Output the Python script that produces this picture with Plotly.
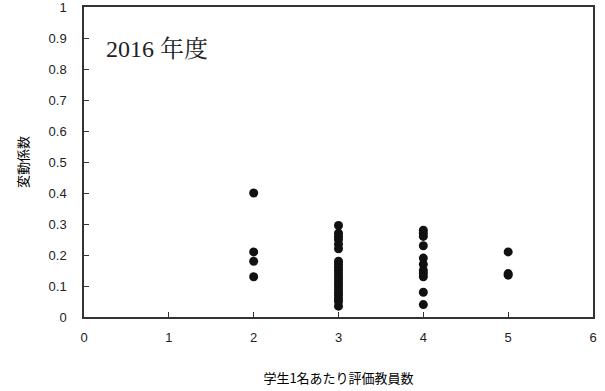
import plotly.graph_objects as go

# 学生1名あたり評価教員数ごとの変動係数 (2016 年度)
evaluators_2 = [0.40, 0.21, 0.18, 0.13]
evaluators_3 = [0.295, 0.27, 0.26, 0.25, 0.235, 0.22, 0.18, 0.17, 0.16, 0.15,
                0.14, 0.13, 0.12, 0.11, 0.10, 0.09, 0.08, 0.07, 0.06, 0.05, 0.035]
evaluators_4 = [0.28, 0.27, 0.26, 0.23, 0.19, 0.17, 0.15, 0.14, 0.13, 0.08, 0.04]
evaluators_5 = [0.21, 0.14, 0.135]

groups = {2: evaluators_2, 3: evaluators_3, 4: evaluators_4, 5: evaluators_5}
xs, ys = [], []
for n, vals in groups.items():
    xs += [n] * len(vals)
    ys += vals

x_ticks = [0, 1, 2, 3, 4, 5, 6]
y_ticks = [0, 0.1, 0.2, 0.3, 0.4, 0.5, 0.6, 0.7, 0.8, 0.9, 1]
y_tick_text = ["0", "0.1", "0.2", "0.3", "0.4", "0.5", "0.6", "0.7", "0.8", "0.9", "1"]

fig = go.Figure(go.Scatter(
    x=xs, y=ys, mode="markers",
    marker=dict(size=9, color="#111111"),
    showlegend=False,
))

axis_common = dict(
    showline=True, linecolor="#333333", linewidth=1.5, mirror=True,
    ticks="inside", ticklen=5, tickcolor="#333333", tickwidth=1,
    showgrid=False, zeroline=False, ticklabeloverflow="allow", automargin=False,
    tickfont=dict(family="Liberation Sans, Arial", size=13, color="#222222"),
)

title_font = dict(family="Noto Sans CJK JP", size=13, color="#000000")

fig.update_layout(
    width=605, height=391,
    margin=dict(l=84, r=12, t=7, b=74, autoexpand=False),
    paper_bgcolor="white", plot_bgcolor="white",
    xaxis=dict(range=[0, 6], tickvals=x_ticks, ticklabelstandoff=8,
               title=dict(text="学生1名あたり評価教員数", standoff=30, font=title_font),
               **axis_common),
    yaxis=dict(range=[0, 1], tickvals=y_ticks, ticktext=y_tick_text, ticklabelstandoff=13,
               title=dict(text="変動係数", standoff=17, font=title_font),
               **axis_common),
    annotations=[dict(
        text="2016 年度", x=0.24, y=0.865, xref="x", yref="y",
        xanchor="left", yanchor="middle", showarrow=False,
        font=dict(family="Liberation Serif, Noto Serif CJK JP, Noto Sans CJK JP", size=24, color="#222222"),
    )],
)

fig.write_html("out.html")
